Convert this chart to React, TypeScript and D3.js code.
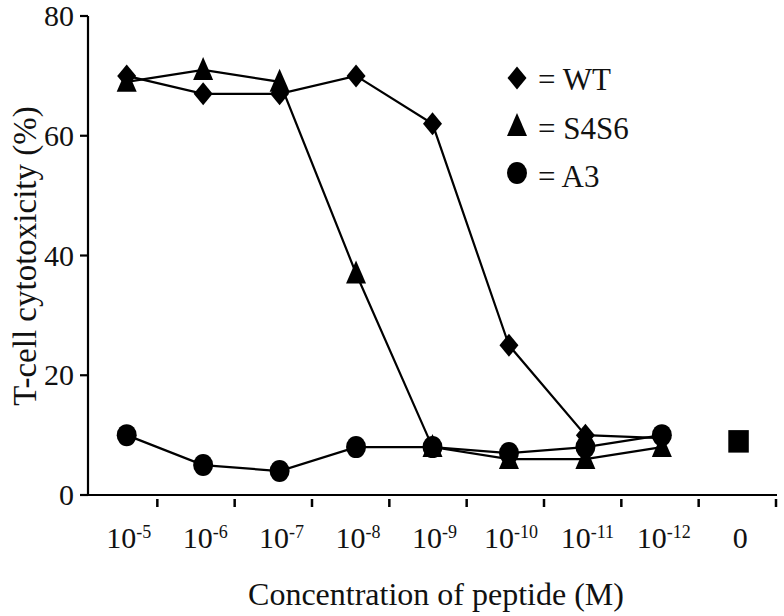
import React from "react";
import * as d3 from "d3";

const categories = ["1e-5", "1e-6", "1e-7", "1e-8", "1e-9", "1e-10", "1e-11", "1e-12", "0"];
const tickBases = ["10", "10", "10", "10", "10", "10", "10", "10", "0"];
const tickExps = ["-5", "-6", "-7", "-8", "-9", "-10", "-11", "-12", ""];
const wtValues = [70, 67, 67, 70, 62, 25, 10, 9.5];
const s4s6Values = [69, 71, 69, 37, 8, 6, 6, 8];
const a3Values = [10, 5, 4, 8, 8, 7, 8, 10];
const controlValue = [9];
const yTicks = [0, 20, 40, 60, 80];
const legendLabels = ["= WT", "= S4S6", "= A3"];

const FONT = "'Liberation Serif', 'Times New Roman', serif";

export default function App() {
  const W = 784, H = 616;
  const x = d3.scalePoint<string>().domain(categories).range([126.7, 738.3]);
  const xb = d3.scaleBand<string>().domain(categories).range([80, 776]).padding(0);
  const y = d3.scaleLinear().domain([0, 80]).range([495, 16]);

  const line = d3
    .line<number>()
    .x((_, i) => x(categories[i]) as number)
    .y((d) => y(d));

  const diamond = (cx: number, cy: number) =>
    `M${cx},${cy - 11.5}L${cx + 9.5},${cy}L${cx},${cy + 11.5}L${cx - 9.5},${cy}Z`;
  const triangle = (cx: number, cy: number) =>
    `M${cx},${cy - 13}L${cx + 10},${cy + 10}L${cx - 10},${cy + 10}Z`;

  const Circle = ({ cx, cy }: { cx: number; cy: number }) => (
    <ellipse cx={cx} cy={cy} rx={10} ry={11} fill="#000" />
  );

  return (
    <svg
      width={W}
      height={H}
      style={{ position: "absolute", left: 0, top: 0, background: "#fff", fontFamily: FONT }}
    >
      <rect width={W} height={H} fill="#fff" />
      {/* axes */}
      <line x1={88} x2={88} y1={y(80)} y2={496} stroke="#000" strokeWidth={2.2} />
      <line x1={82} x2={777} y1={495} y2={495} stroke="#000" strokeWidth={2.2} />
      {yTicks.map((t) => (
        <g key={t}>
          <line x1={80} x2={88} y1={y(t)} y2={y(t)} stroke="#000" strokeWidth={2.2} />
          <text x={74} y={y(t) + 10} textAnchor="end" fontSize={30} fill="#111" style={{ fontFamily: FONT }}>
            {t}
          </text>
        </g>
      ))}
      {categories.map((c) => (
        <line
          key={"t" + c}
          x1={(xb(c) as number) + xb.bandwidth()}
          x2={(xb(c) as number) + xb.bandwidth()}
          y1={499}
          y2={507}
          stroke="#000"
          strokeWidth={2.5}
        />
      ))}
      {categories.map((c, i) => (
        <text
          key={"l" + c}
          x={(x(c) as number) + 2}
          y={548}
          textAnchor="middle"
          fontSize={30}
          fill="#111"
          style={{ fontFamily: FONT }}
        >
          {tickBases[i]}
          {tickExps[i] && (
            <tspan fontSize={18} dy={-10}>
              {tickExps[i]}
            </tspan>
          )}
        </text>
      ))}
      <text x={436} y={605} textAnchor="middle" fontSize={32} fill="#111" style={{ fontFamily: FONT }}>
        Concentration of peptide (M)
      </text>
      <text
        transform={`translate(36,256) rotate(-90)`}
        textAnchor="middle"
        fontSize={33}
        fill="#111"
        style={{ fontFamily: FONT }}
      >
        T-cell cytotoxicity (%)
      </text>

      {/* lines */}
      {[wtValues, s4s6Values, a3Values].map((vals, k) => (
        <path key={"p" + k} d={line(vals) as string} fill="none" stroke="#000" strokeWidth={2.2} />
      ))}
      {/* markers */}
      {wtValues.map((v, i) => (
        <path key={"d" + i} d={diamond(x(categories[i]) as number, y(v))} fill="#000" />
      ))}
      {s4s6Values.map((v, i) => (
        <path key={"tr" + i} d={triangle(x(categories[i]) as number, y(v))} fill="#000" />
      ))}
      {a3Values.map((v, i) => (
        <Circle key={"c" + i} cx={x(categories[i]) as number} cy={y(v)} />
      ))}
      {controlValue.map((v, i) => (
        <rect
          key={"sq" + i}
          x={(x(categories[8]) as number) - 10}
          y={y(v) - 11}
          width={20.5}
          height={22.5}
          fill="#000"
        />
      ))}

      {/* legend */}
      <path d={diamond(517, 78)} fill="#000" />
      <path d={triangle(517, 126)} fill="#000" />
      <Circle cx={517} cy={173} />
      {legendLabels.map((l, i) => (
        <text key={l} x={538} y={90 + i * 48.5} fontSize={31} fill="#111" style={{ fontFamily: FONT }}>
          {l}
        </text>
      ))}
    </svg>
  );
}
